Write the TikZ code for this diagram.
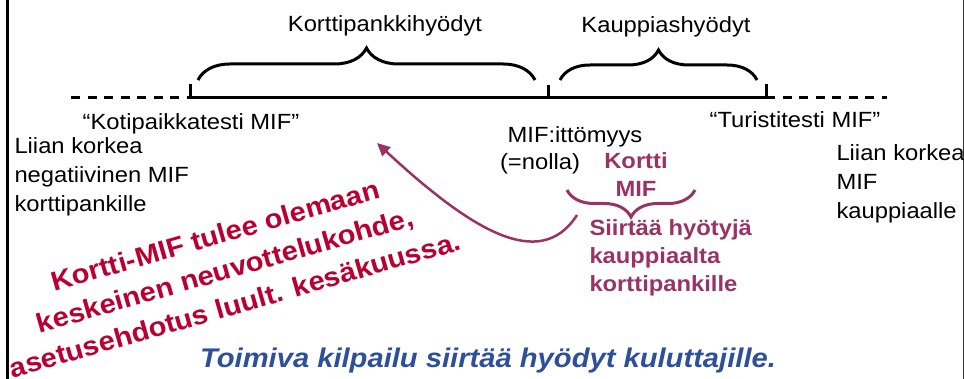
\documentclass[tikz,border=0pt]{standalone}
\usepackage{fontspec}
\setmainfont{Liberation Sans}[FakeStretch=1.08]
\usetikzlibrary{arrows.meta,positioning,decorations.pathreplacing}
\definecolor{mifpurple}{RGB}{153,51,102}
\definecolor{mifred}{RGB}{185,0,50}
\definecolor{mifblue}{RGB}{45,80,150}

\begin{document}
\begin{tikzpicture}[x=1pt,y=1pt,line width=3pt,>={Triangle[length=13pt,width=12pt]},
  gap/.style={dash pattern=on 9pt off 7.5pt},
  txt/.style={font=\fontsize{22}{29}\selectfont,inner sep=0pt},
  side/.style={txt,align=left,anchor=west},
  pink/.style={font=\bfseries\fontsize{22}{28}\selectfont,text=mifpurple,inner sep=0pt},
  gain/.style={decorate,decoration={brace,amplitude=#1}},
  gain/.default=30pt]

  \useasboundingbox (0,0) rectangle (964,379);
  \draw (7,0) -- (7,379);
  \draw[line width=1pt,black!80] (963.5,0) -- (963.5,379);

  % MIF axis
  \coordinate (left end) at (71,281);
  \coordinate (home) at (190,281);
  \coordinate (zero) at (548,281);
  \coordinate (tour) at (766,281);
  \coordinate (right end) at (887,281);
  \draw[gap] (left end) -- (home);
  \draw (home) -- (tour);
  \draw[gap] (tour) -- (right end);
  \draw (home) -- ++(0,14);
  \draw (zero) -- ++(0,13);
  \draw (tour) -- ++(0,14);

  % benefit braces
  \draw[gain=32pt] (198,299) -- (535,299);
  \draw[gain=30pt] (560,299) -- (757,299);
  \draw[gain=27pt,mifpurple] (695,189) -- (567,189);

  \node[txt,anchor=base] (bank gain) at (385,347) {Korttipankkihyödyt};
  \node[txt,anchor=base] (shop gain) at (666,346) {Kauppiashyödyt};

  \node[txt,anchor=base] (home mif) at (191,249) {“Kotipaikkatesti MIF”};
  \node[side] (too low) at (13,202) {Liian korkea\\negatiivinen MIF\\korttipankille};
  \node[txt,anchor=base] (no mif) at (575,236) {MIF:ittömyys};
  \node[txt,anchor=base] (nil) at (540,209) {(=nolla)};
  \node[txt,anchor=base] (tour mif) at (795,251) {“Turistitesti MIF”};
  \node[side] (too high) at (835,195) {Liian korkea\\MIF\\kauppiaalle};

  \node[pink,align=center] (card mif) at (636,204.5) {Kortti\\MIF};
  \node[pink,align=left,anchor=west] (shift) at (588,121) {Siirtää hyötyjä\\kauppiaalta\\korttipankille};

  \node[font=\bfseries\fontsize{27}{36}\selectfont,text=mifred,align=center,
    rotate=16,inner sep=0pt] (talks) at (225,109)
    {Kortti-MIF tulee olemaan\\keskeinen neuvottelukohde,\\asetusehdotus luult. kesäkuussa.};
  \node[font=\bfseries\itshape\fontsize{27}{32}\selectfont,text=mifblue,anchor=base,
    inner sep=0pt] (claim) at (488,11) {Toimiva kilpailu siirtää hyödyt kuluttajille.};

  \coordinate (push) at (577,164);
  \coordinate (pull) at (377,236);
  \draw[->,mifpurple,line width=2.5pt] (push) .. controls (540,106) and (470,150) .. (pull);
\end{tikzpicture}
\end{document}
